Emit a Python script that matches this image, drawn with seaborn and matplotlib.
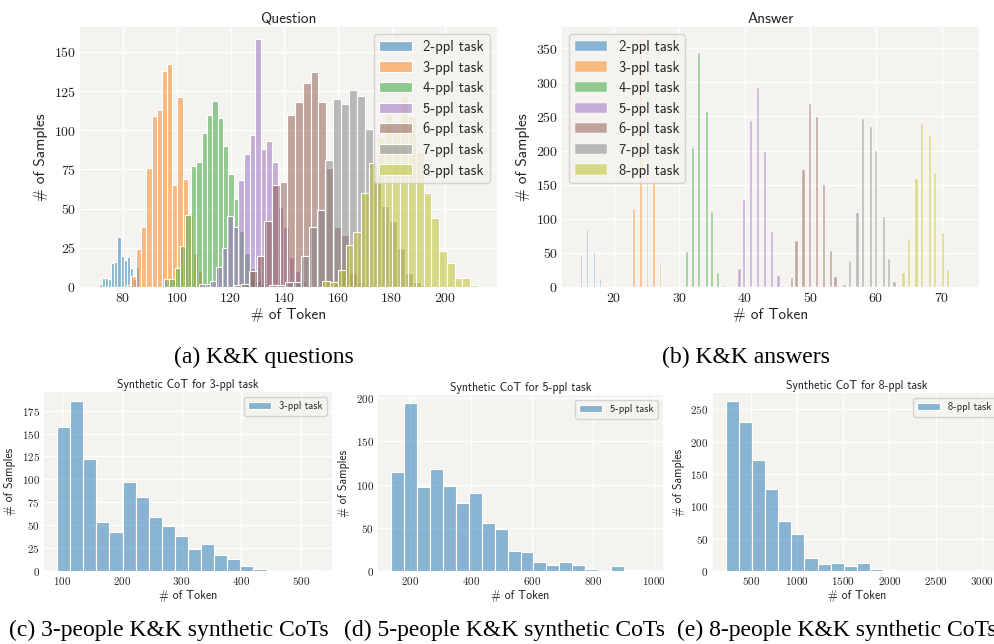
import numpy as np
import pandas as pd
import matplotlib
matplotlib.use("Agg")
import matplotlib.pyplot as plt
import seaborn as sns
from matplotlib.ticker import MultipleLocator, FuncFormatter

# ---------------- data ----------------
task_labels = ["2-ppl task", "3-ppl task", "4-ppl task", "5-ppl task",
               "6-ppl task", "7-ppl task", "8-ppl task"]

# Question token lengths: first bin edge, bin width, counts per bin
q_starts = [71.0, 81.0, 95.2, 108.3, 121.2, 134.3, 154.2]
q_widths = [1.15, 1.92, 2.0, 2.09, 2.86, 2.99, 2.9]
q2_counts = [2, 6, 6, 5, 15, 16, 32, 20, 17, 19, 12, 5, 13]
q3_counts = [1, 7, 24, 38, 76, 109, 113, 138, 142, 65, 121, 69, 47, 22, 10, 3]
q4_counts = [5, 5, 12, 26, 46, 77, 80, 98, 110, 119, 108, 90, 72, 56, 36, 22, 12, 4, 2]
q5_counts = [2, 2, 4, 13, 25, 45, 38, 68, 85, 97, 158, 88, 93, 80, 51, 38, 19, 10, 4, 1]
q6_counts = [1, 2, 10, 20, 42, 65, 67, 110, 118, 130, 137, 118, 76, 38, 33, 9, 3, 1]
q7_counts = [1, 1, 3, 3, 20, 38, 49, 81, 120, 117, 126, 122, 101, 78, 52, 42, 25, 9, 3, 1]
q8_counts = [4, 3, 11, 27, 35, 60, 79, 96, 111, 100, 122, 109, 86, 60, 44, 23, 15, 6, 6, 1]
q_counts = [q2_counts, q3_counts, q4_counts, q5_counts, q6_counts, q7_counts, q8_counts]

# Answer token lengths (integer token counts) and number of samples
a2_tokens = [15, 16, 17, 18]
a2_counts = [46, 84, 50, 11]
a3_tokens = [23, 24, 25, 26, 27, 28]
a3_counts = [114, 363, 320, 159, 35, 4]
a4_tokens = [31, 32, 33, 34, 35, 36, 37]
a4_counts = [52, 204, 343, 257, 110, 21, 2]
a5_tokens = [39, 40, 41, 42, 43, 44, 45, 46]
a5_counts = [26, 128, 243, 292, 198, 81, 16, 2]
a6_tokens = [47, 48, 49, 50, 51, 52, 53, 54]
a6_counts = [13, 67, 172, 268, 249, 150, 53, 14]
a7_tokens = [55, 56, 57, 58, 59, 60, 61, 62, 63]
a7_counts = [3, 38, 109, 246, 234, 200, 102, 41, 8]
a8_tokens = [64, 65, 66, 67, 68, 69, 70, 71, 72]
a8_counts = [21, 70, 159, 239, 221, 167, 79, 25, 2]
a_tokens = [a2_tokens, a3_tokens, a4_tokens, a5_tokens, a6_tokens, a7_tokens, a8_tokens]
a_counts = [a2_counts, a3_counts, a4_counts, a5_counts, a6_counts, a7_counts, a8_counts]

# Synthetic CoT token lengths: data range and counts (20 bins)
cot3_range = (91.6, 530.0)
cot3_counts = [157, 186, 122, 54, 43, 97, 81, 59, 49, 38, 24, 30, 18, 13, 6, 2, 0, 0, 0, 1]
cot5_range = (137.5, 987.0)
cot5_counts = [115, 194, 97, 118, 98, 79, 90, 56, 49, 23, 22, 10, 7, 10, 7, 2, 0, 6, 1, 1]
cot8_range = (227.0, 3067.0)
cot8_counts = [262, 230, 171, 127, 78, 57, 20, 11, 12, 7, 12, 3, 1, 0, 0, 0, 0, 0, 0, 1]

captions = ["(a) K&K questions", "(b) K&K answers",
            "(c) 3-people K&K synthetic CoTs", "(d) 5-people K&K synthetic CoTs",
            "(e) 8-people K&K synthetic CoTs"]

# ---------------- style ----------------
BG = "#f4f3ef"
sns.set_theme(style="darkgrid", rc={"axes.facecolor": BG, "grid.color": "white",
                                    "grid.linewidth": 1.0, "patch.edgecolor": "white"})
plt.rcParams["font.family"] = ["cmss10", "DejaVu Sans"]
plt.rcParams["mathtext.fontset"] = "cm"
plt.rcParams["axes.unicode_minus"] = False

palette = sns.color_palette("tab10")
colors = [palette[i] for i in (0, 1, 2, 4, 5, 7, 8)]

fig = plt.figure(figsize=(9.95, 6.44), dpi=100)
W, H = 995.0, 644.0


def add_ax(l, t, r, b):
    return fig.add_axes([l / W, 1 - b / H, (r - l) / W, (b - t) / H])


tex_fmt = FuncFormatter(lambda v, p: f"${v:g}$")


def hist(ax, values, counts, nbins, brange, col, lab, lw):
    df = pd.DataFrame({"token": np.asarray(values, float),
                       "count": np.asarray(counts, float)})
    kw = dict(bins=nbins)
    if brange is not None:
        kw["binrange"] = brange
    sns.histplot(data=df, x="token", weights="count", ax=ax, color=col,
                 alpha=0.5, edgecolor="white", linewidth=lw, label=lab, **kw)


def finish(ax, xstep, ystep, tick_size, label_size, title, title_size):
    ax.xaxis.set_major_locator(MultipleLocator(xstep))
    ax.yaxis.set_major_locator(MultipleLocator(ystep))
    ax.xaxis.set_major_formatter(tex_fmt)
    ax.yaxis.set_major_formatter(tex_fmt)
    ax.tick_params(labelsize=tick_size, length=0, pad=3, labelcolor="#222222")
    ax.set_xlabel("# of Token", fontsize=label_size, labelpad=2, color="#222222")
    ax.set_ylabel("# of Samples", fontsize=label_size, labelpad=4, color="#222222")
    ax.set_title(title, fontsize=title_size, pad=3, color="#222222")
    for s in ax.spines.values():
        s.set_visible(False)


# (a) Question
ax_q = add_ax(80, 27, 497, 287)
for lab, col, start, width, counts in zip(task_labels, colors, q_starts, q_widths, q_counts):
    n = len(counts)
    centers = start + width * (np.arange(n) + 0.5)
    hist(ax_q, centers, counts, n, (start, start + width * n), col, lab, 0.8)
finish(ax_q, 20, 25, 10, 11, "Question", 11)
ax_q.legend(loc="upper right", fontsize=10.5, handlelength=2.2, labelspacing=0.45)

# (b) Answer
ax_a = add_ax(562, 27, 979, 287)
for lab, col, toks, counts in zip(task_labels, colors, a_tokens, a_counts):
    hist(ax_a, toks, counts, 20, None, col, lab, 0.3)
ax_a.set_xlim(12.1, 75.7)
finish(ax_a, 10, 50, 10, 11, "Answer", 11)
ax_a.legend(loc="upper left", fontsize=10.5, handlelength=2.2, labelspacing=0.45)

# (c)(d)(e) synthetic CoT
cot_specs = [
    ((44, 392, 332, 571), cot3_range, cot3_counts, "3-ppl task", 100, 25),
    ((378, 395, 663, 571), cot5_range, cot5_counts, "5-ppl task", 200, 50),
    ((712.7, 393, 1001, 571), cot8_range, cot8_counts, "8-ppl task", 500, 50),
]
for (l, t, r, b), rng, counts, lab, xs, ys in cot_specs:
    ax = add_ax(l, t, r, b)
    n = len(counts)
    width = (rng[1] - rng[0]) / n
    centers = rng[0] + width * (np.arange(n) + 0.5)
    hist(ax, centers, counts, n, rng, colors[0], lab, 0.8)
    finish(ax, xs, ys, 8, 8.5, f"Synthetic CoT for {lab}", 8.5)
    ax.legend(loc="upper right", fontsize=7.5, handlelength=2.2)

# captions
cap_font = dict(family="Liberation Serif", fontsize=17, va="center", color="black")
fig.text(264 / W, 1 - 357 / H, captions[0], ha="center", **cap_font)
fig.text(746 / W, 1 - 357 / H, captions[1], ha="center", **cap_font)
fig.text(169 / W, 1 - 630 / H, captions[2], ha="center", **cap_font)
fig.text(504.5 / W, 1 - 630 / H, captions[3], ha="center", **cap_font)
fig.text(677 / W, 1 - 630 / H, captions[4], ha="left", **cap_font)

fig.savefig("out.png", dpi=100, facecolor="white")
